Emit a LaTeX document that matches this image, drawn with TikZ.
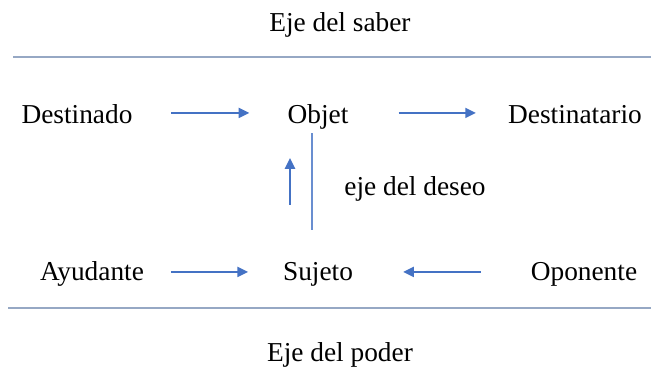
\documentclass[tikz,border=0pt]{standalone}
\usepackage{fontspec}
\setmainfont{Liberation Serif}
\usetikzlibrary{arrows.meta,positioning}
\definecolor{azulflecha}{RGB}{68,114,196}
\definecolor{grisregla}{RGB}{150,168,196}

\begin{document}
\begin{tikzpicture}[x=0.75pt,y=-0.75pt,
        lbl/.style={font=\fontsize{20.5}{24}\selectfont, inner sep=0pt, anchor=base},
        flecha/.style={draw=azulflecha, line width=1.5pt, -{Triangle[length=8pt,width=7.5pt]}},
        raya/.style={draw=azulflecha!80, line width=1.1pt},
        regla/.style={draw=grisregla, line width=1.4pt}]
        \useasboundingbox (0,0) rectangle (651,372);

        \node[lbl] (saber) at (340,31) {Eje del saber};
        \node[lbl] (poder) at (340,361) {Eje del poder};

        \node[lbl] (destinado) at (77,123) {Destinado};
        \node[lbl] (objet) at (318,123) {Objet};
        \node[lbl] (destinatario) at (575,123) {Destinatario};

        \node[lbl] (deseo) at (415,195) {eje del deseo};

        \node[lbl] (ayudante) at (92,280) {Ayudante};
        \node[lbl] (sujeto) at (318,280) {Sujeto};
        \node[lbl] (oponente) at (584,280) {Oponente};

        \coordinate (sab1) at (13,57);
        \coordinate (sab2) at (651,57);
        \coordinate (pod1) at (8,308);
        \coordinate (pod2) at (651,308);
        \draw[regla] (sab1) -- (sab2);
        \draw[regla] (pod1) -- (pod2);

        \draw[flecha, shorten <=29pt, shorten >=28.5pt] ([yshift=5.25pt]destinado.mid east) -- ([yshift=5.25pt]objet.mid west);
        \draw[flecha, shorten <=37.5pt, shorten >=24pt] ([yshift=5.25pt]objet.mid east) -- ([yshift=5.25pt]destinatario.mid west);

        \draw[flecha, shorten <=20pt, shorten >=26pt] ([yshift=3.75pt]ayudante.mid east) -- ([yshift=3.75pt]sujeto.mid west);
        \draw[flecha, shorten <=37.5pt, shorten >=37.5pt] ([yshift=3.75pt]oponente.mid west) -- ([yshift=3.75pt]sujeto.mid east);

        \draw[flecha, shorten <=42.75pt, shorten >=21.75pt] ([xshift=-21pt]sujeto.north) -- ([xshift=-21pt]objet.south);
        \draw[raya, shorten <=3pt, shorten >=24pt] ([xshift=-4.5pt]objet.south) -- ([xshift=-4.5pt]sujeto.north);
\end{tikzpicture}
\end{document}
